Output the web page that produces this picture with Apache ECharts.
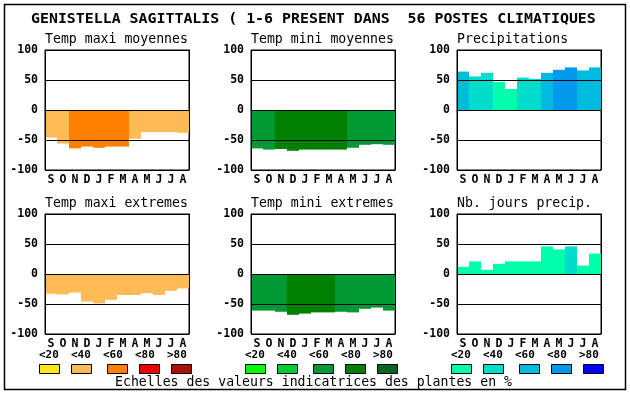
<!DOCTYPE html>
<html><head><meta charset="utf-8">
<script src="https://cdn.jsdelivr.net/npm/echarts@6/dist/echarts.min.js"></script>
<style>html,body{margin:0;padding:0;background:#fff}#c{width:630px;height:394px}</style>
</head><body><div id="c"></div>
<script>
// ---- data ----
const mainTitle = 'GENISTELLA SAGITTALIS ( 1-6 PRESENT DANS  56 POSTES CLIMATIQUES';
const months = ['S','O','N','D','J','F','M','A','M','J','J','A'];
const legendLabels = ['<20','<40','<60','<80','>80'];
const footerText = 'Echelles des valeurs indicatrices des plantes en %';
const orangeScale = ['#FFE619','#FFBB55','#FF8000','#EE0000','#AA1100'];
const greenScale  = ['#00FF00','#00CC33','#009933','#008000','#006622'];
const blueScale   = ['#00FFAA','#00DDCC','#00BBDD','#0099EE','#0000FF'];

const tempMaxiMoy    = [-46,-56,-64,-61,-63,-61,-61,-48,-37,-37,-37,-38];
const tempMaxiMoyCls = [1,1,2,2,2,2,2,1,1,1,1,1];
const tempMiniMoy    = [-64,-66,-65,-68,-66,-66,-66,-66,-63,-58,-57,-58];
const tempMiniMoyCls = [2,2,3,3,3,3,3,3,2,2,2,2];
const precip         = [64,56,62,47,35,54,52,62,67,71,66,71];
const precipCls      = [2,1,1,0,0,1,1,2,3,3,2,2];
const tempMaxiExt    = [-33,-34,-31,-46,-49,-43,-35,-35,-32,-35,-28,-24];
const tempMaxiExtCls = [1,1,1,1,1,1,1,1,1,1,1,1];
const tempMiniExt    = [-61,-61,-63,-68,-66,-64,-64,-63,-64,-58,-56,-61];
const tempMiniExtCls = [2,2,2,3,3,3,3,2,2,2,2,2];
const nbJours        = [12,21,7,17,21,21,21,46,41,46,14,34];
const nbJoursCls     = [0,0,0,0,0,0,0,0,0,1,0,0];

// ---- layout ----
const colLeft = [45, 251, 457];
const rowTop = [50, 214];
const boxW = 144, boxH = 120;
const MONO = '"DejaVu Sans Mono", monospace';

const panels = [
  {title:'Temp maxi moyennes', v:tempMaxiMoy, c:tempMaxiMoyCls, s:orangeScale, col:0, row:0},
  {title:'Temp mini moyennes', v:tempMiniMoy, c:tempMiniMoyCls, s:greenScale, col:1, row:0},
  {title:'Precipitations', v:precip, c:precipCls, s:blueScale, col:2, row:0},
  {title:'Temp maxi extremes', v:tempMaxiExt, c:tempMaxiExtCls, s:orangeScale, col:0, row:1},
  {title:'Temp mini extremes', v:tempMiniExt, c:tempMiniExtCls, s:greenScale, col:1, row:1},
  {title:'Nb. jours precip.', v:nbJours, c:nbJoursCls, s:blueScale, col:2, row:1}
];
const legendScales = [orangeScale, greenScale, blueScale];

const grid = [], xAxis = [], yAxis = [], series = [], graphic = [];
panels.forEach((p, i) => {
  const L = colLeft[p.col], T = rowTop[p.row];
  grid.push({left:L, top:T, width:boxW, height:boxH, show:true, borderColor:'#000', borderWidth:1, backgroundColor:'#fff'});
  xAxis.push({type:'category', gridIndex:i, data:months, boundaryGap:true,
    axisLine:{show:true, lineStyle:{color:'#000', width:1}}, axisTick:{show:false},
    axisLabel:{interval:0, margin:4, color:'#000', fontFamily:MONO, fontWeight:'bold', fontSize:11.5},
    splitLine:{show:false}, z:5});
  yAxis.push({type:'value', gridIndex:i, min:-100, max:100, interval:50, position:'left', z:5,
    axisLine:{show:true, lineStyle:{color:'#000', width:1}}, axisTick:{show:false},
    axisLabel:{margin:7, color:'#000', fontFamily:MONO, fontWeight:'bold', fontSize:11.5},
    splitLine:{show:true, lineStyle:{color:'#000', width:1}}});
  yAxis.push({type:'value', gridIndex:i, min:-100, max:100, interval:50, position:'right', z:5,
    axisLine:{show:true, lineStyle:{color:'#000', width:1}}, axisTick:{show:false},
    axisLabel:{show:false}, splitLine:{show:false}});
  series.push({type:'bar', xAxisIndex:i, yAxisIndex:2*i, barWidth:'100%', barGap:'0%', z:2,
    silent:true, animation:false,
    data:p.v.map((val, k) => ({value:val, itemStyle:{color:p.s[p.c[k]]}}))});
  graphic.push({type:'text', left:L, top:T - 17, silent:true,
    style:{text:p.title, fill:'#000', font:'13.2px ' + MONO}});
});

// main title and outer frame
graphic.push({type:'rect', shape:{x:4.5, y:4.5, width:621, height:385}, silent:true,
  style:{fill:null, stroke:'#000', lineWidth:1.5}, z:-1});
graphic.push({type:'text', left:31, top:12, silent:true,
  style:{text:mainTitle, fill:'#000', font:'bold 14.9px ' + MONO}});

// legends
const labelOff = [-6, 26, 58, 90, 122];
const boxOff = [-6, 26, 62, 94, 126];
legendScales.forEach((sc, ci) => {
  const L = colLeft[ci];
  legendLabels.forEach((lab, k) => {
    graphic.push({type:'text', left:L + labelOff[k], top:350, silent:true,
      style:{text:lab, fill:'#000', font:'bold 11px ' + MONO}});
    graphic.push({type:'rect', shape:{x:L + boxOff[k] + 0.5, y:364.5, width:20, height:9}, silent:true,
      style:{fill:sc[k], stroke:'#000', lineWidth:1}});
  });
});
graphic.push({type:'text', left:115, top:376, silent:true,
  style:{text:footerText, fill:'#000', font:'13.2px ' + MONO}});

const chart = echarts.init(document.getElementById('c'), null, {renderer:'canvas'});
chart.setOption({animation:false, grid, xAxis, yAxis, series, graphic});
</script>
</body></html>
